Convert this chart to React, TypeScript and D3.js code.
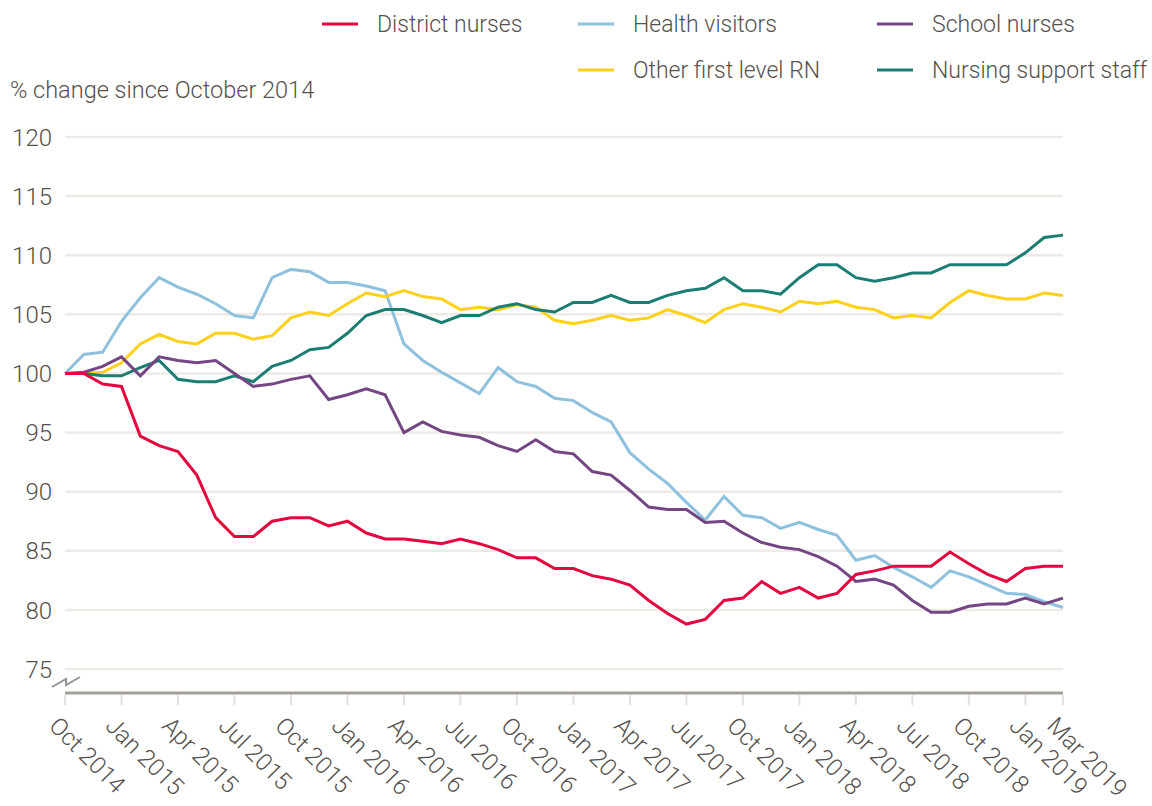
import React from "react";
import * as d3 from "d3";

const months: string[] = (() => {
  const names = ["Jan","Feb","Mar","Apr","May","Jun","Jul","Aug","Sep","Oct","Nov","Dec"];
  const out: string[] = [];
  let m = 9, y = 2014;
  for (let i = 0; i < 54; i++) { out.push(`${names[m]} ${y}`); m++; if (m === 12) { m = 0; y++; } }
  return out;
})();

const tickLabels = ["Oct 2014","Jan 2015","Apr 2015","Jul 2015","Oct 2015","Jan 2016","Apr 2016","Jul 2016","Oct 2016","Jan 2017","Apr 2017","Jul 2017","Oct 2017","Jan 2018","Apr 2018","Jul 2018","Oct 2018","Jan 2019","Mar 2019"];
const yTicks = [75, 80, 85, 90, 95, 100, 105, 110, 115, 120];

const districtNurses = [100,100,99.1,98.9,94.7,93.9,93.4,91.4,87.8,86.2, 86.2,87.5,87.8,87.8,87.1,87.5,86.5,86.0,86.0,85.8, 85.6,86.0,85.6,85.1,84.4,84.4,83.5,83.5,82.9,82.6, 82.1,80.8,79.7,78.8,79.2,80.8,81.0,82.4,81.4,81.9, 81.0,81.4,83.0,83.3,83.7,83.7,83.7,84.9,83.9,83.0, 82.4,83.5,83.7,83.7];
const healthVisitors = [100,101.6,101.8,104.4,106.4,108.1,107.3,106.7,105.9,104.9, 104.7,108.1,108.8,108.6,107.7,107.7,107.4,107.0,102.5,101.1, 100.1,99.2,98.3,100.5,99.3,98.9,97.9,97.7,96.7,95.9, 93.3,91.9,90.7,89.1,87.6,89.6,88.0,87.8,86.9,87.4, 86.8,86.3,84.2,84.6,83.6,82.8,81.9,83.3,82.8,82.1, 81.4,81.3,80.7,80.2];
const schoolNurses = [100,100.1,100.6,101.4,99.8,101.4,101.1,100.9,101.1,100, 98.9,99.1,99.5,99.8,97.8,98.2,98.7,98.2,95.0,95.9, 95.1,94.8,94.6,93.9,93.4,94.4,93.4,93.2,91.7,91.4, 90.1,88.7,88.5,88.5,87.4,87.5,86.5,85.7,85.3,85.1, 84.5,83.7,82.4,82.6,82.1,80.8,79.8,79.8,80.3,80.5, 80.5,81.0,80.5,81.0];
const otherFirstLevelRN = [100,100,100.1,100.9,102.5,103.3,102.7,102.5,103.4,103.4, 102.9,103.2,104.7,105.2,104.9,105.9,106.8,106.5,107.0,106.5, 106.3,105.4,105.6,105.4,105.8,105.6,104.5,104.2,104.5,104.9, 104.5,104.7,105.4,104.9,104.3,105.4,105.9,105.6,105.2,106.1, 105.9,106.1,105.6,105.4,104.7,104.9,104.7,106.0,107.0,106.6, 106.3,106.3,106.8,106.6];
const nursingSupportStaff = [100,100,99.8,99.8,100.5,101.1,99.5,99.3,99.3,99.8, 99.3,100.6,101.1,102.0,102.2,103.4,104.9,105.4,105.4,104.9, 104.3,104.9,104.9,105.6,105.9,105.4,105.2,106.0,106.0,106.6, 106.0,106.0,106.6,107.0,107.2,108.1,107.0,107.0,106.7,108.1, 109.2,109.2,108.1,107.8,108.1,108.5,108.5,109.2,109.2,109.2, 109.2,110.2,111.5,111.7];

const seriesNames = ["District nurses","Health visitors","School nurses","Other first level RN","Nursing support staff"];
const seriesValues = [districtNurses, healthVisitors, schoolNurses, otherFirstLevelRN, nursingSupportStaff];
const seriesColors = ["#e3063f","#8ec1de","#744684","#fdd01c","#1c7d73"];
// draw order (back to front)
const drawOrder = [1, 3, 4, 2, 0];

const legendPos = [
  { x: 322, y: 24 }, { x: 578, y: 24 }, { x: 877, y: 24 },
  { x: 578, y: 70 }, { x: 877, y: 70 },
];

export default function App() {
  const W = 1152, H = 806;
  const x = d3.scaleLinear().domain([0, 53]).range([65, 1063]);
  const y = d3.scaleLinear().domain([75, 120]).range([669, 137]);
  const line = d3.line<number>().x((_, i) => x(i)).y((d) => y(d));
  const font = "Roboto, 'Liberation Sans', Arial, sans-serif";
  const textColor = "#55514e";
  const axisY = 693;

  return (
    <svg width={W} height={H} style={{ position: "absolute", left: 0, top: 0, background: "#fff" }} fontFamily={font}>
      {/* grid */}
      {yTicks.map((t) => (
        <g key={t}>
          <line x1={x(0)} x2={x(53)} y1={y(t)} y2={y(t)} stroke="#eeebe7" strokeWidth={2.5} />
          <text x={52} y={y(t)} dy="0.36em" textAnchor="end" fontSize={24} fill={textColor} fontWeight={300}>{t}</text>
        </g>
      ))}
      {/* axis baseline */}
      <line x1={x(0)} x2={x(53)} y1={axisY} y2={axisY} stroke="#a49e9a" strokeWidth={3} />
      {/* break mark */}
      <polyline points="52,687 66,679 66,685 80,677" fill="none" stroke="#9a9490" strokeWidth={2} />
      {/* x ticks and labels */}
      {tickLabels.map((lab) => {
        const i = months.indexOf(lab);
        return (
          <g key={lab}>
            <line x1={x(i)} x2={x(i)} y1={axisY + 2} y2={axisY + 12} stroke="#e4e1dd" strokeWidth={2} />
            <text transform={`translate(${x(i) - 5},${axisY + 22}) rotate(45)`} dy="0.72em" fontSize={24} fill={textColor} fontWeight={300}>{lab}</text>
          </g>
        );
      })}
      {/* lines */}
      {drawOrder.map((k) => (
        <path key={k} d={line(seriesValues[k]) || ""} fill="none" stroke={seriesColors[k]} strokeWidth={3} strokeLinejoin="miter" />
      ))}
      {/* y title */}
      <text x={10} y={98} fontSize={23.5} fill={textColor} fontWeight={300}>% change since October 2014</text>
      {/* legend */}
      {seriesNames.map((n, k) => (
        <g key={n}>
          <line x1={legendPos[k].x} x2={legendPos[k].x + 36} y1={legendPos[k].y} y2={legendPos[k].y} stroke={seriesColors[k]} strokeWidth={3} />
          <text x={legendPos[k].x + 55} y={legendPos[k].y} dy="0.36em" fontSize={23} fill={textColor} fontWeight={300}>{n}</text>
        </g>
      ))}
    </svg>
  );
}
